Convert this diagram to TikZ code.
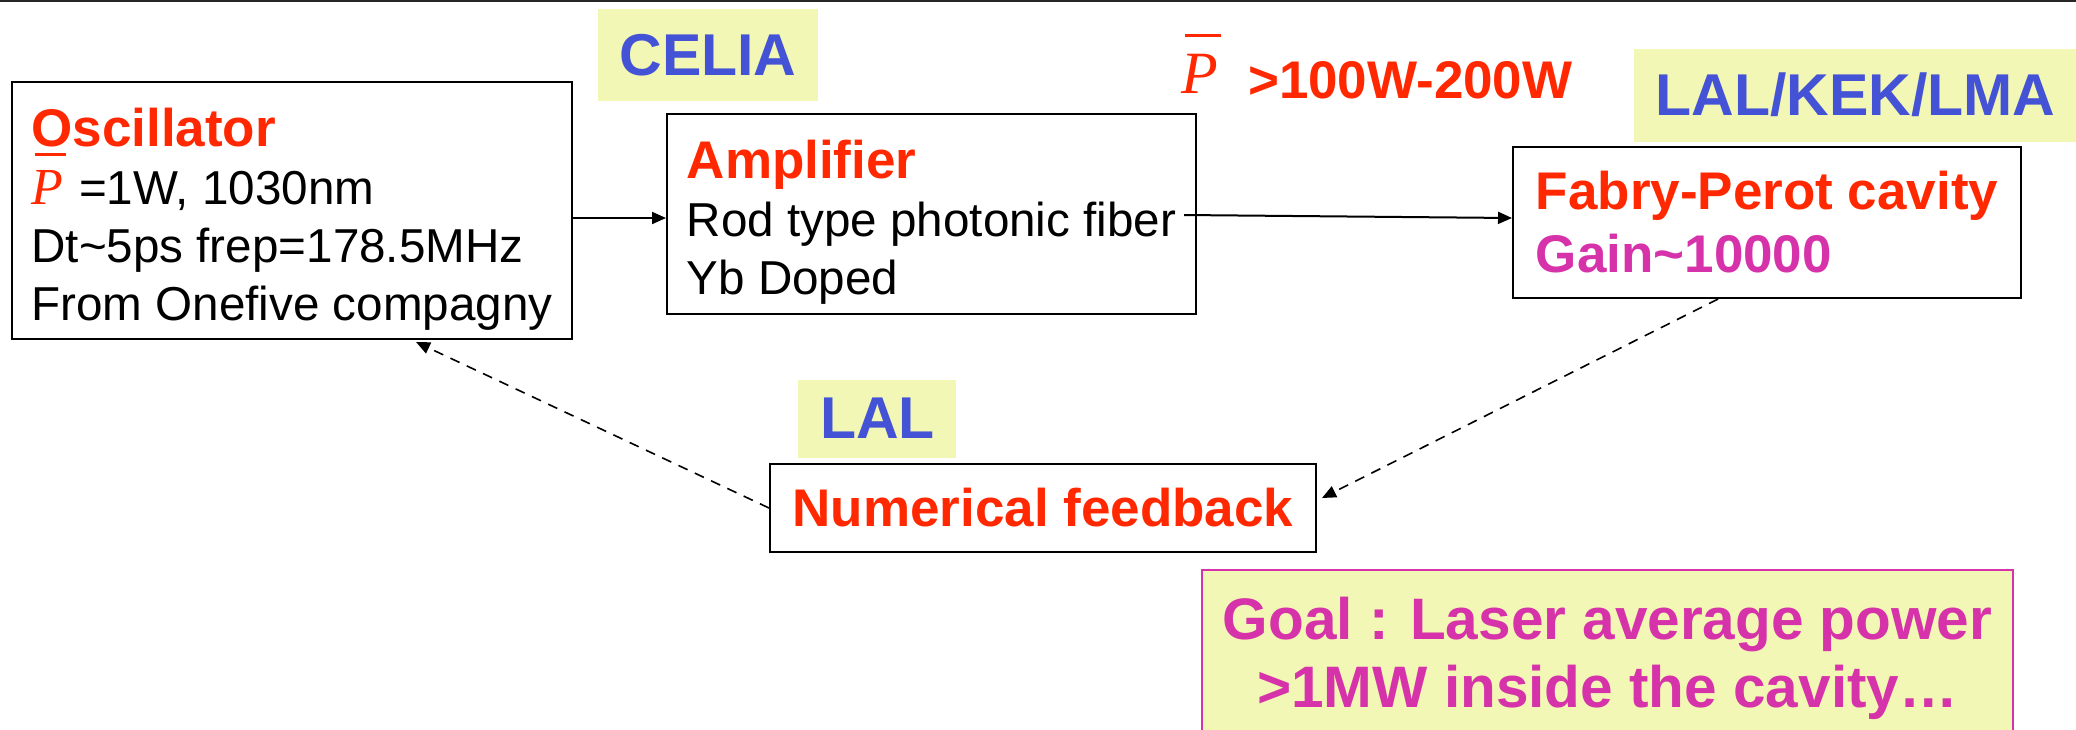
\documentclass[tikz,border=0pt]{standalone}
\usepackage{fontspec}
\setmainfont{Liberation Sans}
\newfontfamily\pfont{Liberation Serif}
\usepackage{xcolor}
\usepackage{tikz}
\usetikzlibrary{arrows.meta, positioning, calc}

\definecolor{tagred}{RGB}{255,40,0}
\definecolor{tagblue}{RGB}{68,82,214}
\definecolor{tagpink}{RGB}{214,50,170}
\definecolor{tagyellow}{RGB}{242,247,181}

\newcommand\bodyfont{\fontsize{23.8pt}{29pt}\selectfont}
\newcommand\headfont{\fontsize{26.5pt}{29pt}\selectfont\bfseries}
\newcommand\tagfont{\fontsize{29.5pt}{34pt}\selectfont\bfseries}
\newcommand\topstrut{\rule{0pt}{27.5pt}}
%% mean power symbol
\newcommand\pavg[1]{{\color{tagred}\fontsize{#1}{#1}\selectfont\pfont\mdseries\itshape
  \rlap{\kern0.06em\rule[0.93em]{0.6em}{0.05em}}P}}

\tikzset{
  %% Block with left-aligned lines
  blk/.style={
    rectangle, draw=black, line width=1pt,
    align=left, font=\bodyfont, inner sep=0pt
  },
  %% Lab tag
  tag/.style={
    rectangle, fill=tagyellow, text=tagblue,
    font=\tagfont, inner sep=0pt
  },
  %% Goal box
  goal/.style={
    rectangle, draw=tagpink, fill=tagyellow, text=tagpink,
    line width=1pt, align=center, inner sep=0pt,
    font=\fontsize{29.25pt}{34pt}\selectfont\bfseries
  },
  %% Arrows
  arr/.style={-{Triangle[length=7pt,width=6pt]}, line width=1pt},
  fb/.style={arr, line width=0.8pt, dash pattern=on 5pt off 4pt},
}

\begin{document}
\begin{tikzpicture}[x=0.5pt, y=-0.5pt]
  \useasboundingbox (0,0) rectangle (2076,729);

  %% Slide rule
  \draw[line width=1pt, black!85] (0,1) -- (2076,1);

  %% Oscillator
  \node[blk, minimum width=280pt, minimum height=128.5pt] (osc) at (292,210.5)
        {{\headfont\color{tagred}\topstrut Oscillator}\\
         \pavg{26pt}\hspace{8pt}=1W, 1030nm\\
         Dt\textasciitilde5ps frep=178.5MHz\\
         From Onefive compagny};

  %% Amplifier
  \node[blk, minimum width=264.5pt, minimum height=100pt] (amp) at (931.5,214)
        {{\headfont\color{tagred}\topstrut Amplifier}\\
         Rod type photonic fiber\\
         Yb Doped};

  %% Cavity
  \node[blk, font=\fontsize{23.8pt}{31.5pt}\selectfont,
        minimum width=254pt, minimum height=75.5pt] (fp) at (1767,222.5)
        {{\headfont\color{tagred}Fabry-Perot cavity}\\
         {\headfont\color{tagpink}Gain\textasciitilde10000}};

  %% Feedback
  \node[blk, font=\headfont, text=tagred,
        minimum width=273pt, minimum height=44pt] (nf) at (1043,508)
        {Numerical feedback};

  %% Labs
  \node[tag, minimum width=110pt, minimum height=46pt] (celia) at (708,55) {CELIA};
  \node[tag, minimum width=221pt, minimum height=46.5pt,
        above right=2pt and 61pt of fp.north west] (lkl) {LAL/KEK/LMA};
  \node[tag, minimum width=79pt, minimum height=39pt,
        above right=2.5pt and 14.5pt of nf.north west] (lal) {LAL};

  %% Power after amplifier
  \node[anchor=base west, font=\headfont, text=tagred, inner sep=0pt] (pw) at (1181,98)
        {\raisebox{2.5pt}{\pavg{30pt}}\hspace{15pt}>100W-200W};

  %% Goal
  \node[goal, minimum width=405.5pt, minimum height=88.5pt, anchor=north] (goal)
        at (1607.5,569)
        {Goal : Laser average power\\>1MW inside the cavity\dots};

  %% Beam path
  \draw[arr] ($(osc.east)+(0,7.5)$) -- ($(amp.west)+(0,4)$);
  \draw[arr] ($(amp.east)+(-13,1)$) -- ($(fp.west)+(0,-4.5)$);

  %% Feedback loop
  \draw[fb] ($(fp.south)+(-49,0)$) -- ($(nf.east)+(5,-10)$);
  \draw[fb] (nf.west) -- ($(osc.south)+(124,2)$);

\end{tikzpicture}
\end{document}
